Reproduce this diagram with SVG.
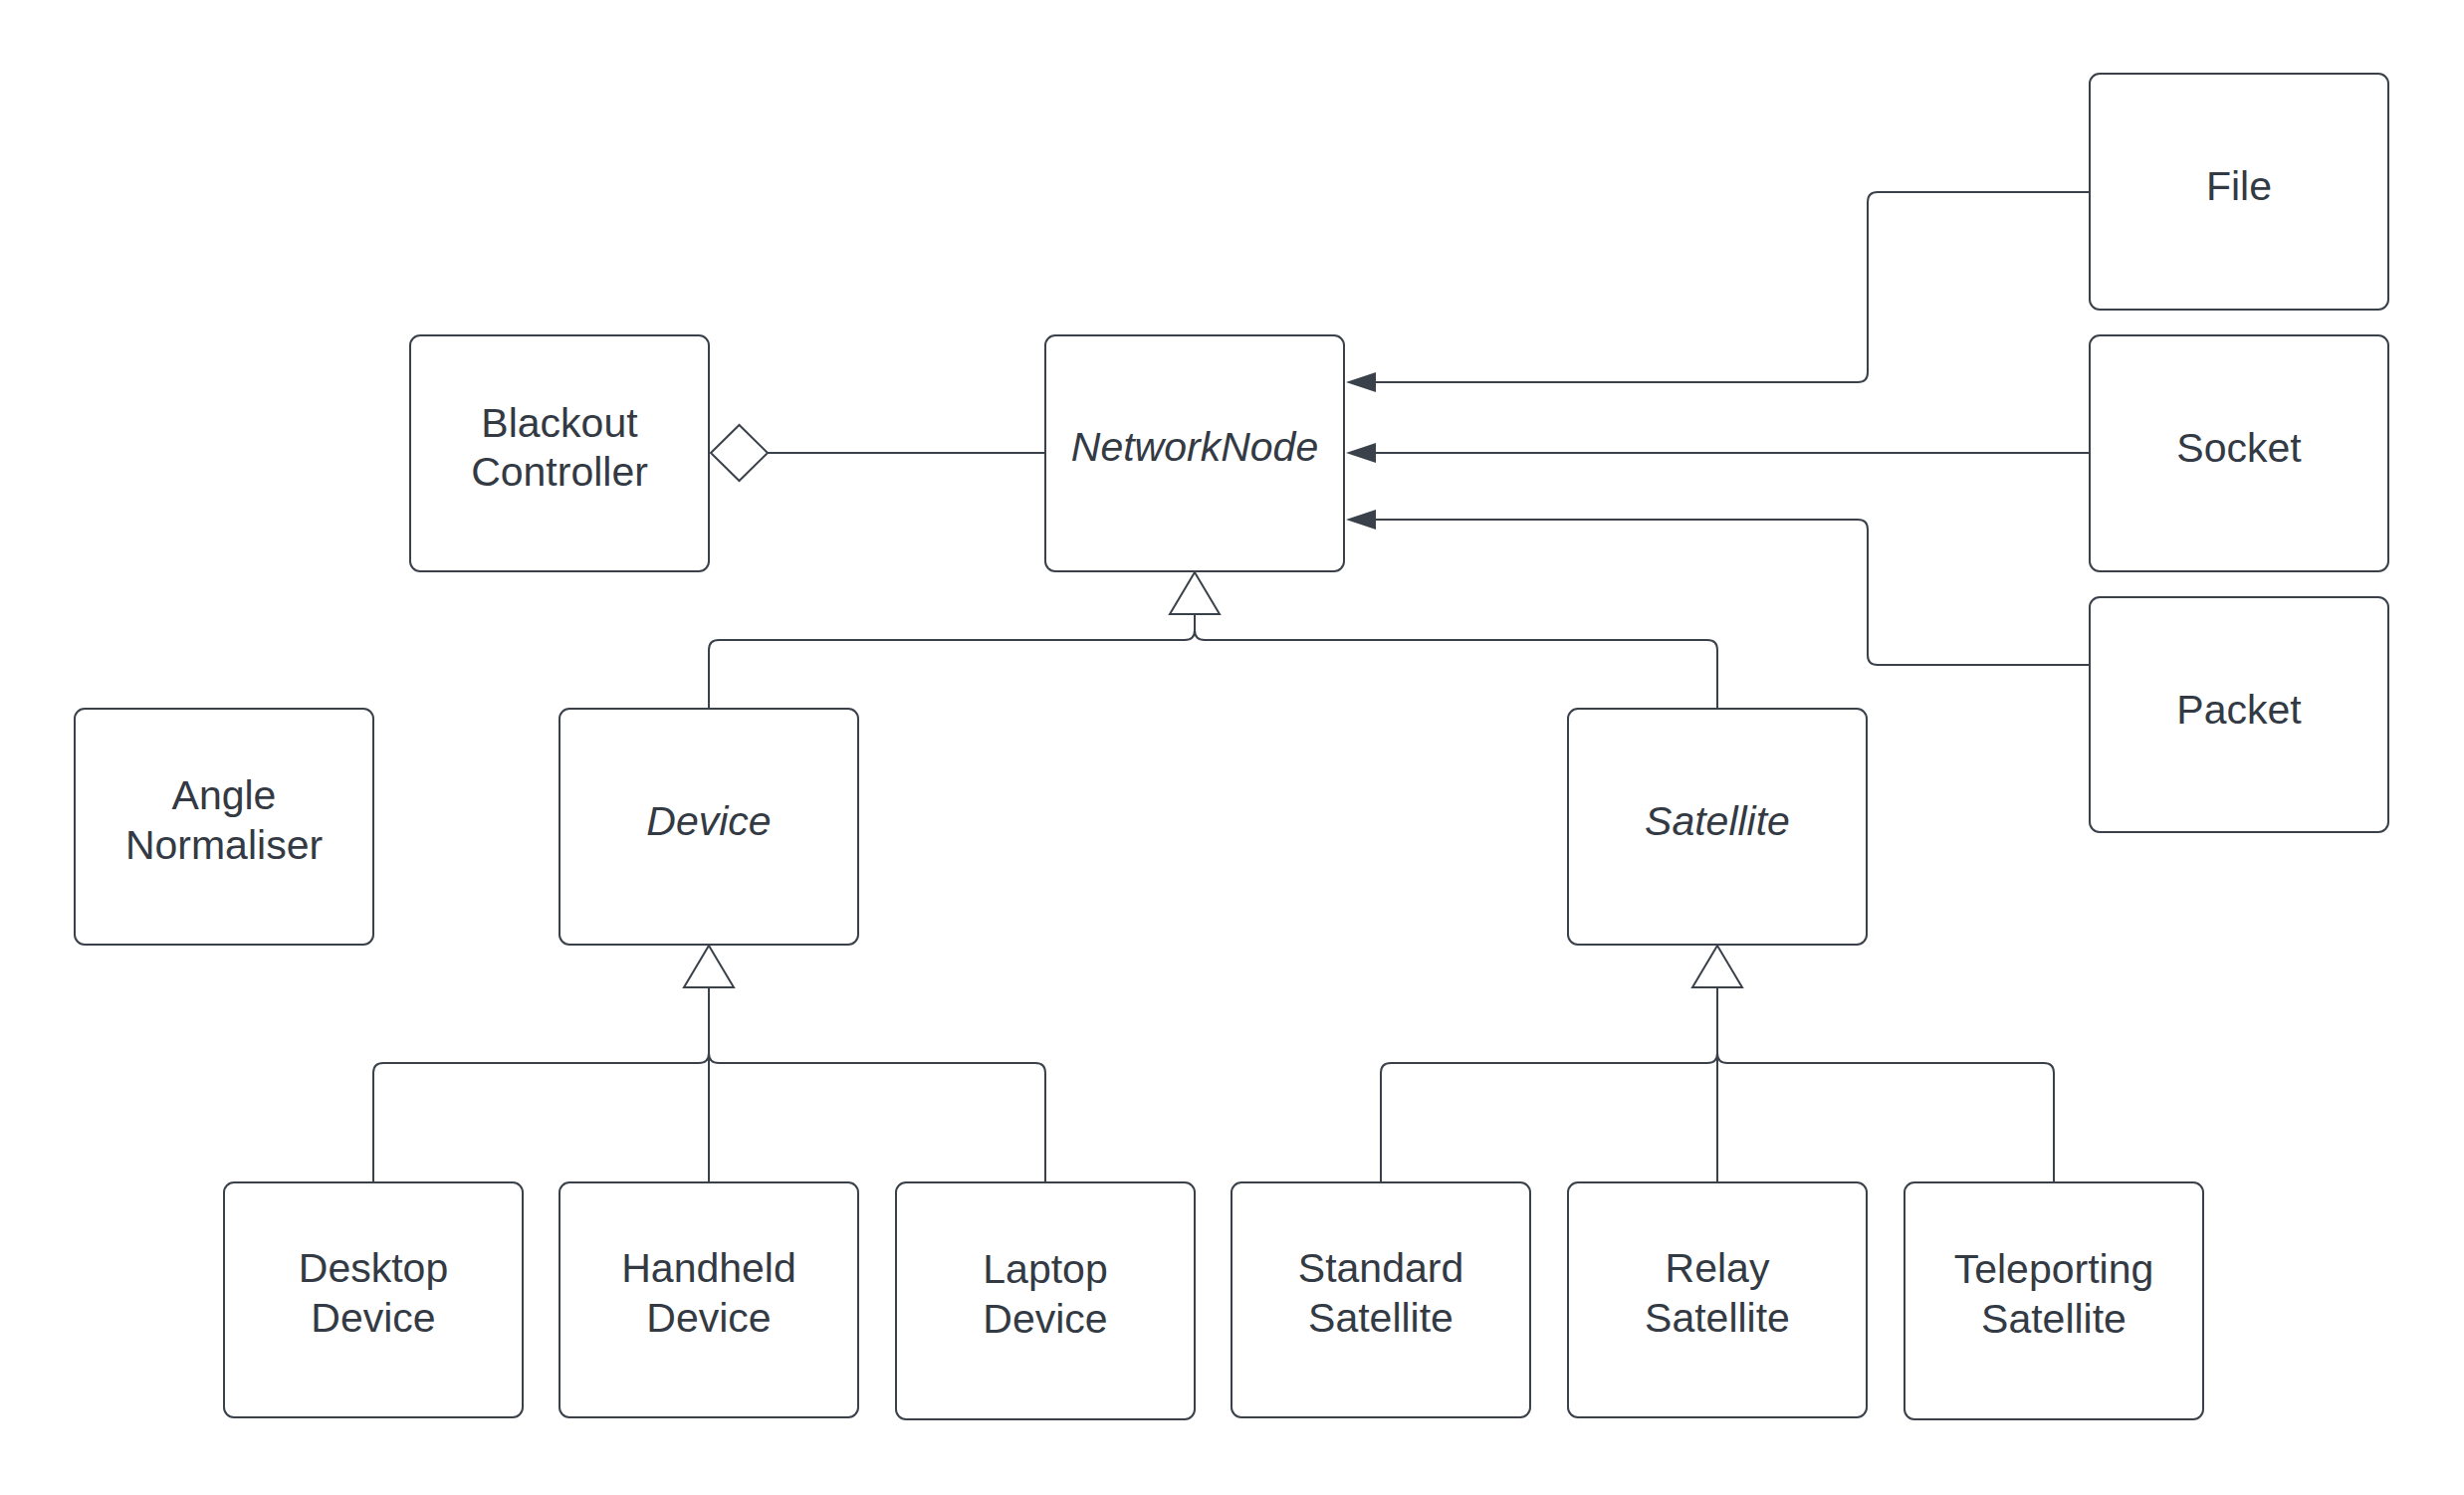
<svg xmlns="http://www.w3.org/2000/svg" width="2475" height="1502" viewBox="0 0 2475 1502">
  <style>
    .box { fill: #ffffff; stroke: #3a414a; stroke-width: 2; }
    .lbl { font-family: "Liberation Sans", Arial, sans-serif; font-size: 41px; fill: #333a44; text-anchor: middle; }
    .abs { font-style: italic; }
    .wire { fill: none; stroke: #3a414a; stroke-width: 2; }
    .hollow { fill: #ffffff; stroke: #3a414a; stroke-width: 2; stroke-linejoin: miter; }
    .head { fill: #3a414a; }
  </style>
  <rect width="2475" height="1502" fill="#ffffff"/>

  <!-- connectors -->
  <g id="connectors">
    <!-- aggregation: BlackoutController <>— NetworkNode -->
    <path class="wire" d="M771,455 H1050"/>
    <path class="hollow" d="M714,455 L742.5,427 L771,455 L742.5,483 Z"/>

    <!-- associations into NetworkNode -->
    <path class="wire" d="M2099,193 H1886 Q1876,193 1876,203 V374 Q1876,384 1866,384 H1380"/>
    <path class="wire" d="M2099,455 H1380"/>
    <path class="wire" d="M2099,668 H1886 Q1876,668 1876,658 V532 Q1876,522 1866,522 H1380"/>
    <path class="head" d="M1352,384 L1382,374 L1382,394 Z"/>
    <path class="head" d="M1352,455 L1382,445 L1382,465 Z"/>
    <path class="head" d="M1352,522 L1382,512 L1382,532 Z"/>

    <!-- generalisation: Device / Satellite -> NetworkNode -->
    <path class="wire" d="M1200,617 V633 Q1200,643 1190,643 H722 Q712,643 712,653 V712"/>
    <path class="wire" d="M1200,617 V633 Q1200,643 1210,643 H1715 Q1725,643 1725,653 V712"/>
    <path class="hollow" d="M1200,575 L1225,617 L1175,617 Z"/>

    <!-- generalisation: concrete devices -> Device -->
    <path class="wire" d="M712,992 V1058 Q712,1068 702,1068 H385 Q375,1068 375,1078 V1188"/>
    <path class="wire" d="M712,992 V1188"/>
    <path class="wire" d="M712,992 V1058 Q712,1068 722,1068 H1040 Q1050,1068 1050,1078 V1188"/>
    <path class="hollow" d="M712,950 L737,992 L687,992 Z"/>

    <!-- generalisation: concrete satellites -> Satellite -->
    <path class="wire" d="M1725,992 V1058 Q1725,1068 1715,1068 H1397 Q1387,1068 1387,1078 V1188"/>
    <path class="wire" d="M1725,992 V1188"/>
    <path class="wire" d="M1725,992 V1058 Q1725,1068 1735,1068 H2053 Q2063,1068 2063,1078 V1188"/>
    <path class="hollow" d="M1725,950 L1750,992 L1700,992 Z"/>
  </g>

  <!-- classes -->
  <g id="file">
    <rect class="box" x="2099" y="74" width="300" height="237" rx="10"/>
    <text class="lbl" x="2249" y="201">File</text>
  </g>
  <g id="socket">
    <rect class="box" x="2099" y="337" width="300" height="237" rx="10"/>
    <text class="lbl" x="2249" y="464">Socket</text>
  </g>
  <g id="packet">
    <rect class="box" x="2099" y="600" width="300" height="236" rx="10"/>
    <text class="lbl" x="2249" y="727">Packet</text>
  </g>
  <g id="blackout-controller">
    <rect class="box" x="412" y="337" width="300" height="237" rx="10"/>
    <text class="lbl" x="562" y="439">Blackout</text>
    <text class="lbl" x="562" y="488">Controller</text>
  </g>
  <g id="network-node">
    <rect class="box" x="1050" y="337" width="300" height="237" rx="10"/>
    <text class="lbl abs" x="1200" y="463">NetworkNode</text>
  </g>
  <g id="angle-normaliser">
    <rect class="box" x="75" y="712" width="300" height="237" rx="10"/>
    <text class="lbl" x="225" y="813">Angle</text>
    <text class="lbl" x="225" y="863">Normaliser</text>
  </g>
  <g id="device">
    <rect class="box" x="562" y="712" width="300" height="237" rx="10"/>
    <text class="lbl abs" x="712" y="839">Device</text>
  </g>
  <g id="satellite">
    <rect class="box" x="1575" y="712" width="300" height="237" rx="10"/>
    <text class="lbl abs" x="1725" y="839">Satellite</text>
  </g>
  <g id="desktop-device">
    <rect class="box" x="225" y="1188" width="300" height="236" rx="10"/>
    <text class="lbl" x="375" y="1288">Desktop</text>
    <text class="lbl" x="375" y="1338">Device</text>
  </g>
  <g id="handheld-device">
    <rect class="box" x="562" y="1188" width="300" height="236" rx="10"/>
    <text class="lbl" x="712" y="1288">Handheld</text>
    <text class="lbl" x="712" y="1338">Device</text>
  </g>
  <g id="laptop-device">
    <rect class="box" x="900" y="1188" width="300" height="238" rx="10"/>
    <text class="lbl" x="1050" y="1289">Laptop</text>
    <text class="lbl" x="1050" y="1339">Device</text>
  </g>
  <g id="standard-satellite">
    <rect class="box" x="1237" y="1188" width="300" height="236" rx="10"/>
    <text class="lbl" x="1387" y="1288">Standard</text>
    <text class="lbl" x="1387" y="1338">Satellite</text>
  </g>
  <g id="relay-satellite">
    <rect class="box" x="1575" y="1188" width="300" height="236" rx="10"/>
    <text class="lbl" x="1725" y="1288">Relay</text>
    <text class="lbl" x="1725" y="1338">Satellite</text>
  </g>
  <g id="teleporting-satellite">
    <rect class="box" x="1913" y="1188" width="300" height="238" rx="10"/>
    <text class="lbl" x="2063" y="1289">Teleporting</text>
    <text class="lbl" x="2063" y="1339">Satellite</text>
  </g>
</svg>
